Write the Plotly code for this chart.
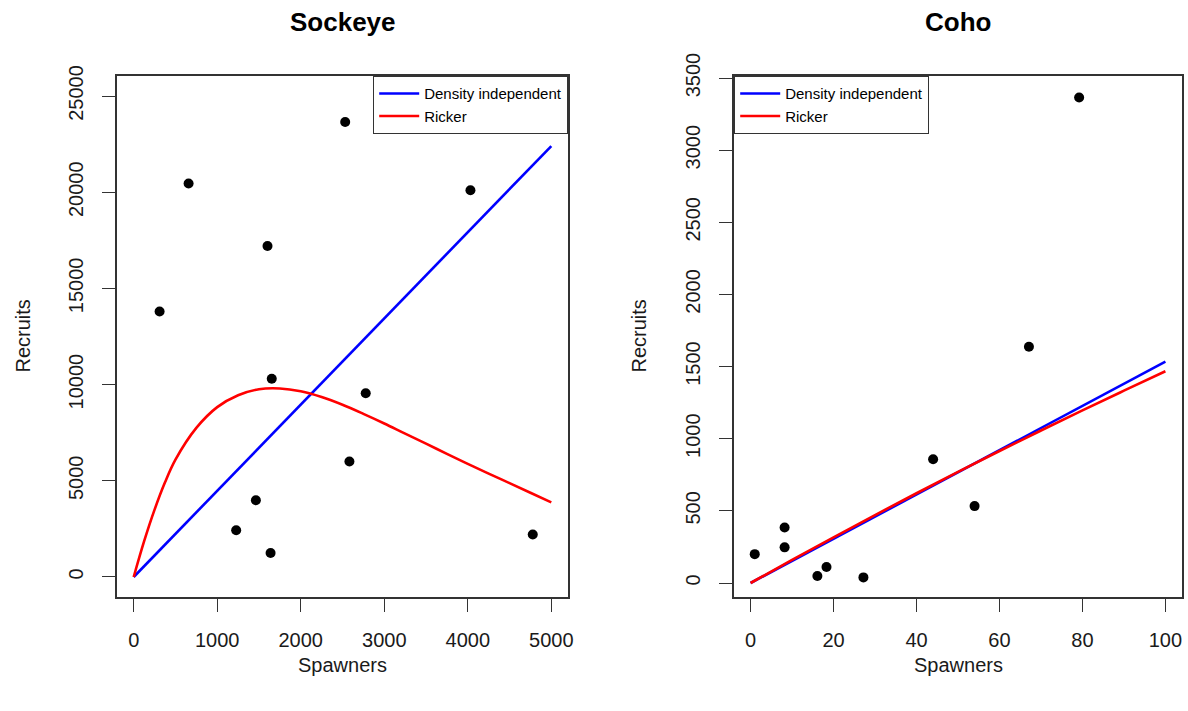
import plotly.graph_objects as go

# ---- Sockeye data ----
sock_spawners = [310, 657, 1227, 1463, 1602, 1639, 1653, 2532, 2583, 2778, 4032, 4778]
sock_recruits = [13800, 20450, 2430, 3990, 17200, 1245, 10300, 23650, 6000, 9550, 20100, 2210]

sock_di_x = [0, 1000, 2000, 3000, 4000, 5000]
sock_di_y = [0, 4480, 8960, 13440, 17920, 22400]

sock_rk_x = [0, 125, 250, 375, 500, 750, 1000, 1250, 1500, 1750, 2000, 2250, 2500, 2750,
             3000, 3250, 3500, 3750, 4000, 4250, 4500, 4750, 5000]
sock_rk_y = [0, 1860, 3500, 4920, 6100, 7750, 8830, 9450, 9760, 9800, 9650, 9350, 8950, 8480,
             7980, 7450, 6930, 6400, 5880, 5370, 4880, 4380, 3880]

# ---- Coho data ----
coho_spawners = [1.0, 8.2, 8.2, 16.1, 18.3, 27.2, 44.0, 54.0, 67.1, 79.2]
coho_recruits = [200, 385, 247, 49, 111, 39, 858, 533, 1638, 3365]

coho_di_x = [0, 20, 40, 60, 80, 100]
coho_di_y = [0, 307, 614, 920, 1227, 1534]

coho_rk_x = [0, 10, 20, 30, 40, 50, 60, 70, 80, 90, 100]
coho_rk_y = [0, 160, 317, 471, 622, 770, 915, 1057, 1197, 1333, 1468]

sock_xticks = [0, 1000, 2000, 3000, 4000, 5000]
sock_yticks = [0, 5000, 10000, 15000, 20000, 25000]
coho_xticks = [0, 20, 40, 60, 80, 100]
coho_yticks = [0, 500, 1000, 1500, 2000, 2500, 3000, 3500]

FONT = "Liberation Sans, Arial, sans-serif"
W, H = 1188, 711
BLUE, RED = "#0000FF", "#FF0000"

fig = go.Figure()

# Sockeye panel
fig.add_trace(go.Scatter(x=sock_spawners, y=sock_recruits, mode="markers",
                         marker=dict(color="black", size=10), showlegend=False,
                         xaxis="x", yaxis="y"))
fig.add_trace(go.Scatter(x=sock_di_x, y=sock_di_y, mode="lines", name="Density independent",
                         line=dict(color=BLUE, width=2.6), legend="legend",
                         xaxis="x", yaxis="y"))
fig.add_trace(go.Scatter(x=sock_rk_x, y=sock_rk_y, mode="lines", name="Ricker",
                         line=dict(color=RED, width=2.6, shape="spline"), legend="legend",
                         xaxis="x", yaxis="y"))

# Coho panel
fig.add_trace(go.Scatter(x=coho_spawners, y=coho_recruits, mode="markers",
                         marker=dict(color="black", size=10), showlegend=False,
                         xaxis="x2", yaxis="y2"))
fig.add_trace(go.Scatter(x=coho_di_x, y=coho_di_y, mode="lines", name="Density independent",
                         line=dict(color=BLUE, width=2.6), legend="legend2",
                         xaxis="x2", yaxis="y2"))
fig.add_trace(go.Scatter(x=coho_rk_x, y=coho_rk_y, mode="lines", name="Ricker",
                         line=dict(color=RED, width=2.6, shape="spline"), legend="legend2",
                         xaxis="x2", yaxis="y2"))

ydom = [1 - 597 / H, 1 - 76 / H]
axis_common = dict(showgrid=False, zeroline=False, showline=True, mirror=True,
                   linecolor="#333333", linewidth=1.5, ticks="outside", ticklen=13,
                   tickwidth=1.3, tickcolor="#333333", tickformat="d",
                   tickfont=dict(family=FONT, size=20, color="#1a1a1a"),
                   automargin=False, fixedrange=True)

legend_common = dict(y=ydom[1], yanchor="top", bgcolor="white", bordercolor="#333333",
                     borderwidth=1.2, font=dict(family=FONT, size=15, color="black"),
                     tracegroupgap=0, itemwidth=40)

fig.update_layout(
    width=W, height=H,
    margin=dict(l=0, r=0, t=0, b=0),
    paper_bgcolor="white", plot_bgcolor="white",
    font=dict(family=FONT, color="black"),
    xaxis=dict(domain=[117 / W, 568 / W], range=[-200, 5200], tickvals=sock_xticks,
               anchor="y", ticklabelstandoff=11, **axis_common),
    yaxis=dict(domain=ydom, range=[-1040, 26040], tickvals=sock_yticks, tickangle=-90,
               anchor="x", ticklabelstandoff=11, **axis_common),
    xaxis2=dict(domain=[734 / W, 1182 / W], range=[-4, 104], tickvals=coho_xticks,
                anchor="y2", ticklabelstandoff=11, **axis_common),
    yaxis2=dict(domain=ydom, range=[-97, 3514], tickvals=coho_yticks, tickangle=-90,
                anchor="x2", ticklabelstandoff=11, **axis_common),
    legend=dict(x=568 / W, xanchor="right", **legend_common),
    legend2=dict(x=734 / W, xanchor="left", **legend_common),
    annotations=[
        dict(text="<b>Sockeye</b>", x=(117 + 568) / 2 / W, y=1 - 22 / H, xref="paper", yref="paper",
             showarrow=False, font=dict(family=FONT, size=26, color="black"),
             xanchor="center", yanchor="middle"),
        dict(text="<b>Coho</b>", x=(734 + 1182) / 2 / W, y=1 - 22 / H, xref="paper", yref="paper",
             showarrow=False, font=dict(family=FONT, size=26, color="black"),
             xanchor="center", yanchor="middle"),
        dict(text="Spawners", x=(117 + 568) / 2 / W, y=1 - 665 / H, xref="paper", yref="paper",
             showarrow=False, font=dict(family=FONT, size=20, color="#1a1a1a"),
             xanchor="center", yanchor="middle"),
        dict(text="Spawners", x=(734 + 1182) / 2 / W, y=1 - 665 / H, xref="paper", yref="paper",
             showarrow=False, font=dict(family=FONT, size=20, color="#1a1a1a"),
             xanchor="center", yanchor="middle"),
        dict(text="Recruits", x=22 / W, y=(ydom[0] + ydom[1]) / 2, xref="paper", yref="paper",
             showarrow=False, textangle=-90, font=dict(family=FONT, size=20, color="#1a1a1a"),
             xanchor="center", yanchor="middle"),
        dict(text="Recruits", x=638 / W, y=(ydom[0] + ydom[1]) / 2, xref="paper", yref="paper",
             showarrow=False, textangle=-90, font=dict(family=FONT, size=20, color="#1a1a1a"),
             xanchor="center", yanchor="middle"),
    ],
)

fig.write_html("out.html")
